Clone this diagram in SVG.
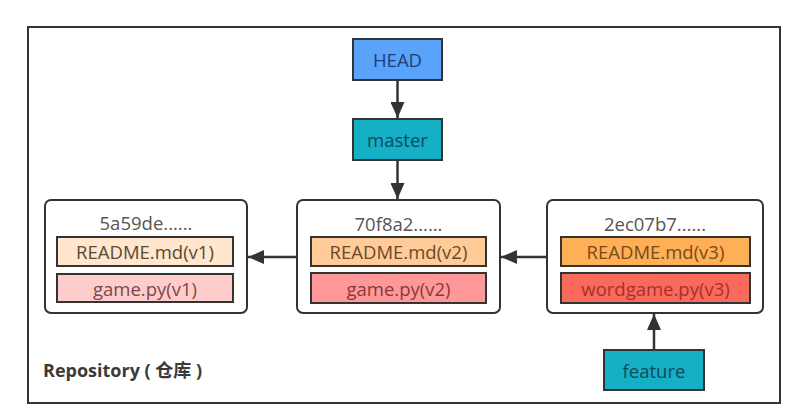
<svg xmlns="http://www.w3.org/2000/svg" width="795" height="418" viewBox="0 0 795 418">
<defs>
<marker id="ah" viewBox="0 0 16 14" refX="16" refY="7" markerWidth="16" markerHeight="14" markerUnits="userSpaceOnUse" orient="auto">
<path d="M0,0 L16,7 L0,14 z" fill="#333"/>
</marker>
<style>
text{font-family:"Open Sans","Liberation Sans",sans-serif;text-anchor:middle;dominant-baseline:central}
.commit{fill:#fff;stroke:#333;stroke-width:2}
.file{stroke:#333;stroke-width:2}
.ref{stroke:#333;stroke-width:2}
.t{font-size:18.5px;fill:#555}
.f{font-size:18.5px}
.conn{stroke:#333;stroke-width:2.5;fill:none}
</style>
</defs>
<rect width="795" height="418" fill="#fff"/>
<rect x="28" y="27" width="752" height="376" fill="#fff" stroke="#333" stroke-width="2"/>
<text x="43" y="370" style="font-size:18px;font-weight:bold;fill:#3a3a3a;text-anchor:start;font-family:'Open Sans','Noto Sans CJK SC',sans-serif">Repository ( 仓库 )</text>

<g id="head"><rect class="ref" x="353" y="39" width="89" height="41" fill="#5aa3fa"/><text class="f" x="397.5" y="59.5" fill="#1c3f7a">HEAD</text></g>
<g id="master"><rect class="ref" x="353" y="119" width="89" height="41" fill="#15afc6"/><text class="f" x="397.5" y="139.5" fill="#0d4b5a">master</text></g>
<g id="feature"><rect class="ref" x="604" y="350" width="100" height="40" fill="#15afc6"/><text class="f" x="654" y="370" fill="#0d4b5a">feature</text></g>

<g id="commit1">
<rect class="commit" x="45" y="200" width="202" height="113" rx="6"/>
<text class="t" x="146" y="222">5a59de......</text>
<rect class="file" x="57" y="237" width="176" height="29" fill="#ffe6cc"/>
<text class="f" x="145" y="251.5" fill="#5a4838">README.md(v1)</text>
<rect class="file" x="57" y="274" width="176" height="28" fill="#ffcccc"/>
<text class="f" x="145" y="288" fill="#7a4848">game.py(v1)</text>
</g>

<g id="commit2">
<rect class="commit" x="297" y="200" width="203" height="113" rx="6"/>
<text class="t" x="398.5" y="223">70f8a2......</text>
<rect class="file" x="311" y="237" width="175" height="29" fill="#ffcc99"/>
<text class="f" x="398.5" y="251.5" fill="#6a4a28">README.md(v2)</text>
<rect class="file" x="311" y="273" width="175" height="30" fill="#ff9999"/>
<text class="f" x="398.5" y="288" fill="#8a3838">game.py(v2)</text>
</g>

<g id="commit3">
<rect class="commit" x="547" y="200" width="216" height="113" rx="6"/>
<text class="t" x="655" y="223">2ec07b7......</text>
<rect class="file" x="561" y="237" width="189" height="29" fill="#ffb057"/>
<text class="f" x="655.5" y="251.5" fill="#7a4a14">README.md(v3)</text>
<rect class="file" x="561" y="273" width="189" height="30" fill="#f96a5c"/>
<text class="f" x="655.5" y="288" fill="#a8302a">wordgame.py(v3)</text>
</g>

<g id="connectors">
<line class="conn" x1="397.5" y1="80" x2="397.5" y2="118" marker-end="url(#ah)"/>
<line class="conn" x1="397.5" y1="160" x2="397.5" y2="199" marker-end="url(#ah)"/>
<line class="conn" x1="297" y1="257" x2="248" y2="257" marker-end="url(#ah)"/>
<line class="conn" x1="547" y1="257" x2="501" y2="257" marker-end="url(#ah)"/>
<line class="conn" x1="654" y1="350" x2="654" y2="314" marker-end="url(#ah)"/>
</g>
</svg>
